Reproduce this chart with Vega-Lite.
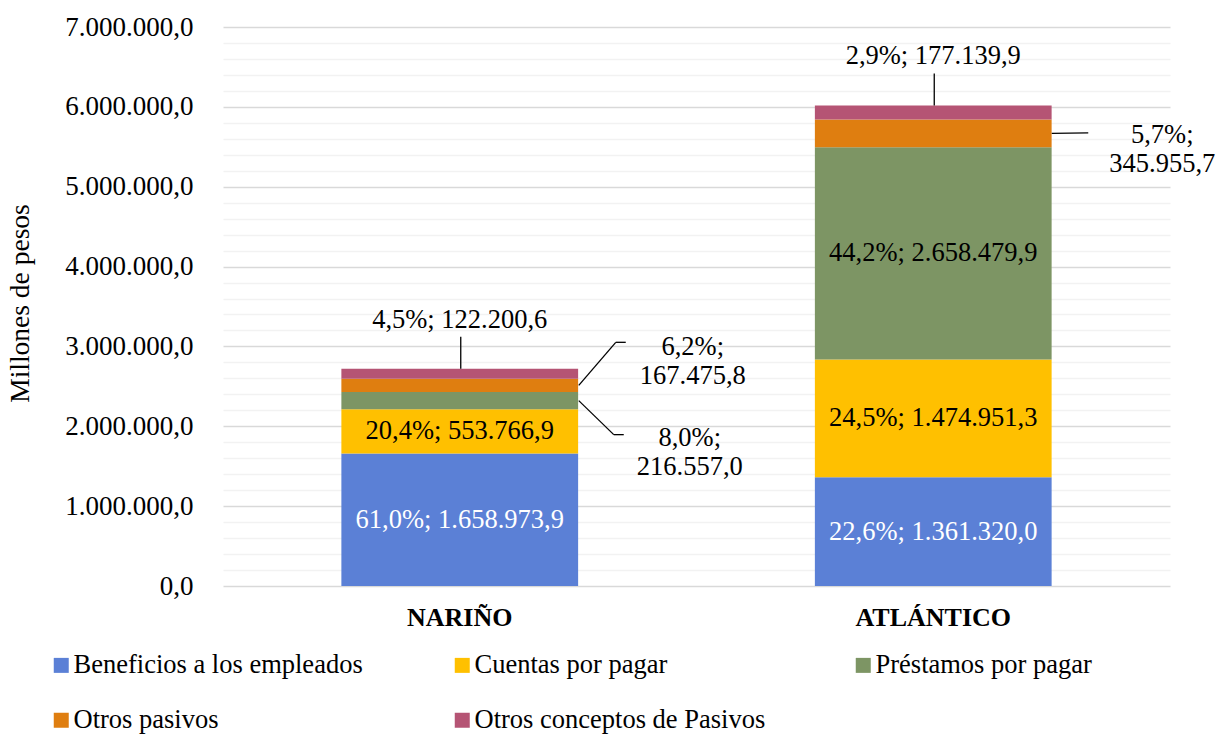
{
  "$schema": "https://vega.github.io/schema/vega-lite/v6.json",
  "width": 947,
  "height": 559,
  "autosize": {"type": "none"},
  "padding": {"left": 223, "top": 27, "right": 46, "bottom": 149},
  "background": "white",
  "config": {
    "view": {"stroke": null},
    "font": "Liberation Serif",
    "locale": {"number": {"decimal": ",", "thousands": ".", "grouping": [3], "currency": ["$", ""]}},
    "axis": {"labelFont": "Liberation Serif", "titleFont": "Liberation Serif", "labelColor": "#000000", "titleColor": "#000000"},
    "legend": {"labelFont": "Liberation Serif"},
    "text": {"font": "Liberation Serif", "fontSize": 26.5, "baseline": "middle", "align": "center", "color": "#000000"}
  },
  "data": {
    "values": [
      {"region": "NARIÑO", "concepto": "Beneficios a los empleados", "valor": 1658973.9, "etiqueta": "61,0%; 1.658.973,9"},
      {"region": "NARIÑO", "concepto": "Cuentas por pagar", "valor": 553766.9, "etiqueta": "20,4%; 553.766,9"},
      {"region": "NARIÑO", "concepto": "Préstamos por pagar", "valor": 216557.0, "etiqueta": "8,0%; 216.557,0"},
      {"region": "NARIÑO", "concepto": "Otros pasivos", "valor": 167475.8, "etiqueta": "6,2%; 167.475,8"},
      {"region": "NARIÑO", "concepto": "Otros conceptos de Pasivos", "valor": 122200.6, "etiqueta": "4,5%; 122.200,6"},
      {"region": "ATLÁNTICO", "concepto": "Beneficios a los empleados", "valor": 1361320.0, "etiqueta": "22,6%; 1.361.320,0"},
      {"region": "ATLÁNTICO", "concepto": "Cuentas por pagar", "valor": 1474951.3, "etiqueta": "24,5%; 1.474.951,3"},
      {"region": "ATLÁNTICO", "concepto": "Préstamos por pagar", "valor": 2658479.9, "etiqueta": "44,2%; 2.658.479,9"},
      {"region": "ATLÁNTICO", "concepto": "Otros pasivos", "valor": 345955.7, "etiqueta": "5,7%; 345.955,7"},
      {"region": "ATLÁNTICO", "concepto": "Otros conceptos de Pasivos", "valor": 177139.9, "etiqueta": "2,9%; 177.139,9"}
    ]
  },
  "transform": [
    {"calculate": "indexof(['Beneficios a los empleados','Cuentas por pagar','Préstamos por pagar','Otros pasivos','Otros conceptos de Pasivos'], datum.concepto)", "as": "orden"},
    {"stack": "valor", "groupby": ["region"], "sort": [{"field": "orden", "order": "ascending"}], "as": ["v0", "v1"]},
    {"calculate": "(datum.v0 + datum.v1) / 2", "as": "vmid"}
  ],
  "layer": [
    {
      "mark": {"type": "bar"},
      "encoding": {
        "x": {"field": "region", "type": "nominal", "sort": ["NARIÑO", "ATLÁNTICO"], "scale": {"paddingInner": 0.5, "paddingOuter": 0.25},
          "axis": {"title": null, "labelAngle": 0, "labelFontSize": 26, "labelFontWeight": "bold", "labelPadding": 18, "domain": false, "ticks": false, "labelColor": "#000000"}},
        "y": {"field": "v0", "type": "quantitative", "scale": {"domain": [0, 7000000], "nice": false, "zero": true},
          "axis": {"title": "Millones  de pesos", "titleFontSize": 27.5, "titleFontWeight": "normal", "titleAngle": -90, "titleX": -203, "titleY": 276, "titleAlign": "center", "titleBaseline": "middle", "values": [0, 200000, 400000, 600000, 800000, 1000000, 1200000, 1400000, 1600000, 1800000, 2000000, 2200000, 2400000, 2600000, 2800000, 3000000, 3200000, 3400000, 3600000, 3800000, 4000000, 4200000, 4400000, 4600000, 4800000, 5000000, 5200000, 5400000, 5600000, 5800000, 6000000, 6200000, 6400000, 6600000, 6800000, 7000000], "format": ",.1f", "labelExpr": "datum.value % 1000000 === 0 ? datum.label : ''", "labelFontSize": 27, "labelPadding": 30, "labelOverlap": false, "labelFlush": false, "ticks": false, "tickSize": 0, "domain": false, "grid": true, "gridColor": {"condition": {"test": "datum.value % 1000000 === 0", "value": "#d9d9d9"}, "value": "#f2f2f2"}, "gridWidth": 1.3}},
        "y2": {"field": "v1"},
        "color": {
          "field": "concepto", "type": "nominal",
          "scale": {
            "domain": ["Beneficios a los empleados", "Cuentas por pagar", "Préstamos por pagar", "Otros pasivos", "Otros conceptos de Pasivos"],
            "range": ["#5B80D6", "#FFC000", "#7D9564", "#DF7E10", "#B55474"]
          },
          "legend": {
            "title": null, "orient": "none", "legendX": -175, "legendY": 625, "direction": "horizontal", "columns": 3,
            "symbolType": "square", "symbolSize": 225, "symbolStrokeWidth": 0,
            "labelFontSize": 26.5, "labelColor": "#000000", "labelLimit": 500, "labelOffset": -1,
            "columnPadding": 84, "rowPadding": 28, "gridAlign": "all", "padding": 0
          }
        }
      }
    },
    {
      "transform": [{"filter": "(datum.region === 'NARIÑO' && datum.orden <= 1) || (datum.region === 'ATLÁNTICO' && datum.orden <= 2)"}],
      "mark": {"type": "text"},
      "encoding": {
        "x": {"field": "region", "type": "nominal", "sort": ["NARIÑO", "ATLÁNTICO"],
          "axis": {"title": null, "labelAngle": 0, "labelFontSize": 26, "labelFontWeight": "bold", "labelPadding": 18, "domain": false, "ticks": false, "labelColor": "#000000"}},
        "y": {"field": "vmid", "type": "quantitative",
          "axis": {"title": "Millones  de pesos", "titleFontSize": 27.5, "titleFontWeight": "normal", "titleAngle": -90, "titleX": -203, "titleY": 276, "titleAlign": "center", "titleBaseline": "middle", "values": [0, 200000, 400000, 600000, 800000, 1000000, 1200000, 1400000, 1600000, 1800000, 2000000, 2200000, 2400000, 2600000, 2800000, 3000000, 3200000, 3400000, 3600000, 3800000, 4000000, 4200000, 4400000, 4600000, 4800000, 5000000, 5200000, 5400000, 5600000, 5800000, 6000000, 6200000, 6400000, 6600000, 6800000, 7000000], "format": ",.1f", "labelExpr": "datum.value % 1000000 === 0 ? datum.label : ''", "labelFontSize": 27, "labelPadding": 30, "labelOverlap": false, "labelFlush": false, "ticks": false, "tickSize": 0, "domain": false, "grid": true, "gridColor": {"condition": {"test": "datum.value % 1000000 === 0", "value": "#d9d9d9"}, "value": "#f2f2f2"}, "gridWidth": 1.3}},
        "text": {"field": "etiqueta", "type": "nominal"},
        "color": {"condition": {"test": "datum.orden === 0", "value": "#ffffff"}, "value": "#000000"}
      }
    },
    {
      "transform": [{"filter": "datum.orden === 4"}],
      "mark": {"type": "text", "dy": -49},
      "encoding": {
        "x": {"field": "region", "type": "nominal", "sort": ["NARIÑO", "ATLÁNTICO"],
          "axis": {"title": null, "labelAngle": 0, "labelFontSize": 26, "labelFontWeight": "bold", "labelPadding": 18, "domain": false, "ticks": false, "labelColor": "#000000"}},
        "y": {"field": "v1", "type": "quantitative",
          "axis": {"title": "Millones  de pesos", "titleFontSize": 27.5, "titleFontWeight": "normal", "titleAngle": -90, "titleX": -203, "titleY": 276, "titleAlign": "center", "titleBaseline": "middle", "values": [0, 200000, 400000, 600000, 800000, 1000000, 1200000, 1400000, 1600000, 1800000, 2000000, 2200000, 2400000, 2600000, 2800000, 3000000, 3200000, 3400000, 3600000, 3800000, 4000000, 4200000, 4400000, 4600000, 4800000, 5000000, 5200000, 5400000, 5600000, 5800000, 6000000, 6200000, 6400000, 6600000, 6800000, 7000000], "format": ",.1f", "labelExpr": "datum.value % 1000000 === 0 ? datum.label : ''", "labelFontSize": 27, "labelPadding": 30, "labelOverlap": false, "labelFlush": false, "ticks": false, "tickSize": 0, "domain": false, "grid": true, "gridColor": {"condition": {"test": "datum.value % 1000000 === 0", "value": "#d9d9d9"}, "value": "#f2f2f2"}, "gridWidth": 1.3}},
        "text": {"field": "etiqueta", "type": "nominal"}
      }
    },
    {
      "transform": [{"filter": "datum.orden === 4"}],
      "mark": {"type": "rule", "color": "#000000", "strokeWidth": 1.3, "xOffset": 1, "y2Offset": -32},
      "encoding": {
        "x": {"field": "region", "type": "nominal", "sort": ["NARIÑO", "ATLÁNTICO"],
          "axis": {"title": null, "labelAngle": 0, "labelFontSize": 26, "labelFontWeight": "bold", "labelPadding": 18, "domain": false, "ticks": false, "labelColor": "#000000"}},
        "y": {"field": "v1", "type": "quantitative",
          "axis": {"title": "Millones  de pesos", "titleFontSize": 27.5, "titleFontWeight": "normal", "titleAngle": -90, "titleX": -203, "titleY": 276, "titleAlign": "center", "titleBaseline": "middle", "values": [0, 200000, 400000, 600000, 800000, 1000000, 1200000, 1400000, 1600000, 1800000, 2000000, 2200000, 2400000, 2600000, 2800000, 3000000, 3200000, 3400000, 3600000, 3800000, 4000000, 4200000, 4400000, 4600000, 4800000, 5000000, 5200000, 5400000, 5600000, 5800000, 6000000, 6200000, 6400000, 6600000, 6800000, 7000000], "format": ",.1f", "labelExpr": "datum.value % 1000000 === 0 ? datum.label : ''", "labelFontSize": 27, "labelPadding": 30, "labelOverlap": false, "labelFlush": false, "ticks": false, "tickSize": 0, "domain": false, "grid": true, "gridColor": {"condition": {"test": "datum.value % 1000000 === 0", "value": "#d9d9d9"}, "value": "#f2f2f2"}, "gridWidth": 1.3}},
        "y2": {"field": "v1"}
      }
    },
    {
      "transform": [{"filter": "datum.region === 'NARIÑO' && datum.orden === 3"}],
      "mark": {"type": "text", "dx": 233, "dy": -38, "lineBreak": " ", "lineHeight": 29},
      "encoding": {
        "x": {"field": "region", "type": "nominal", "sort": ["NARIÑO", "ATLÁNTICO"],
          "axis": {"title": null, "labelAngle": 0, "labelFontSize": 26, "labelFontWeight": "bold", "labelPadding": 18, "domain": false, "ticks": false, "labelColor": "#000000"}},
        "y": {"field": "vmid", "type": "quantitative",
          "axis": {"title": "Millones  de pesos", "titleFontSize": 27.5, "titleFontWeight": "normal", "titleAngle": -90, "titleX": -203, "titleY": 276, "titleAlign": "center", "titleBaseline": "middle", "values": [0, 200000, 400000, 600000, 800000, 1000000, 1200000, 1400000, 1600000, 1800000, 2000000, 2200000, 2400000, 2600000, 2800000, 3000000, 3200000, 3400000, 3600000, 3800000, 4000000, 4200000, 4400000, 4600000, 4800000, 5000000, 5200000, 5400000, 5600000, 5800000, 6000000, 6200000, 6400000, 6600000, 6800000, 7000000], "format": ",.1f", "labelExpr": "datum.value % 1000000 === 0 ? datum.label : ''", "labelFontSize": 27, "labelPadding": 30, "labelOverlap": false, "labelFlush": false, "ticks": false, "tickSize": 0, "domain": false, "grid": true, "gridColor": {"condition": {"test": "datum.value % 1000000 === 0", "value": "#d9d9d9"}, "value": "#f2f2f2"}, "gridWidth": 1.3}},
        "text": {"field": "etiqueta", "type": "nominal"}
      }
    },
    {
      "transform": [{"filter": "datum.region === 'NARIÑO' && datum.orden === 3"}],
      "mark": {"type": "rule", "color": "#000000", "strokeWidth": 1.3, "xOffset": 119, "x2Offset": 156, "y2Offset": -43},
      "encoding": {
        "x": {"field": "region", "type": "nominal", "sort": ["NARIÑO", "ATLÁNTICO"], "bandPosition": 0.5,
          "axis": {"title": null, "labelAngle": 0, "labelFontSize": 26, "labelFontWeight": "bold", "labelPadding": 18, "domain": false, "ticks": false, "labelColor": "#000000"}},
        "x2": {"field": "region", "bandPosition": 0.5},
        "y": {"field": "vmid", "type": "quantitative",
          "axis": {"title": "Millones  de pesos", "titleFontSize": 27.5, "titleFontWeight": "normal", "titleAngle": -90, "titleX": -203, "titleY": 276, "titleAlign": "center", "titleBaseline": "middle", "values": [0, 200000, 400000, 600000, 800000, 1000000, 1200000, 1400000, 1600000, 1800000, 2000000, 2200000, 2400000, 2600000, 2800000, 3000000, 3200000, 3400000, 3600000, 3800000, 4000000, 4200000, 4400000, 4600000, 4800000, 5000000, 5200000, 5400000, 5600000, 5800000, 6000000, 6200000, 6400000, 6600000, 6800000, 7000000], "format": ",.1f", "labelExpr": "datum.value % 1000000 === 0 ? datum.label : ''", "labelFontSize": 27, "labelPadding": 30, "labelOverlap": false, "labelFlush": false, "ticks": false, "tickSize": 0, "domain": false, "grid": true, "gridColor": {"condition": {"test": "datum.value % 1000000 === 0", "value": "#d9d9d9"}, "value": "#f2f2f2"}, "gridWidth": 1.3}},
        "y2": {"field": "vmid"}
      }
    },
    {
      "transform": [{"filter": "datum.region === 'NARIÑO' && datum.orden === 3"}],
      "mark": {"type": "rule", "color": "#000000", "strokeWidth": 1.3, "xOffset": 156, "x2Offset": 166, "yOffset": -43, "y2Offset": -43},
      "encoding": {
        "x": {"field": "region", "type": "nominal", "sort": ["NARIÑO", "ATLÁNTICO"], "bandPosition": 0.5,
          "axis": {"title": null, "labelAngle": 0, "labelFontSize": 26, "labelFontWeight": "bold", "labelPadding": 18, "domain": false, "ticks": false, "labelColor": "#000000"}},
        "x2": {"field": "region", "bandPosition": 0.5},
        "y": {"field": "vmid", "type": "quantitative",
          "axis": {"title": "Millones  de pesos", "titleFontSize": 27.5, "titleFontWeight": "normal", "titleAngle": -90, "titleX": -203, "titleY": 276, "titleAlign": "center", "titleBaseline": "middle", "values": [0, 200000, 400000, 600000, 800000, 1000000, 1200000, 1400000, 1600000, 1800000, 2000000, 2200000, 2400000, 2600000, 2800000, 3000000, 3200000, 3400000, 3600000, 3800000, 4000000, 4200000, 4400000, 4600000, 4800000, 5000000, 5200000, 5400000, 5600000, 5800000, 6000000, 6200000, 6400000, 6600000, 6800000, 7000000], "format": ",.1f", "labelExpr": "datum.value % 1000000 === 0 ? datum.label : ''", "labelFontSize": 27, "labelPadding": 30, "labelOverlap": false, "labelFlush": false, "ticks": false, "tickSize": 0, "domain": false, "grid": true, "gridColor": {"condition": {"test": "datum.value % 1000000 === 0", "value": "#d9d9d9"}, "value": "#f2f2f2"}, "gridWidth": 1.3}},
        "y2": {"field": "vmid"}
      }
    },
    {
      "transform": [{"filter": "datum.region === 'NARIÑO' && datum.orden === 2"}],
      "mark": {"type": "text", "dx": 230, "dy": 37, "lineBreak": " ", "lineHeight": 29},
      "encoding": {
        "x": {"field": "region", "type": "nominal", "sort": ["NARIÑO", "ATLÁNTICO"],
          "axis": {"title": null, "labelAngle": 0, "labelFontSize": 26, "labelFontWeight": "bold", "labelPadding": 18, "domain": false, "ticks": false, "labelColor": "#000000"}},
        "y": {"field": "vmid", "type": "quantitative",
          "axis": {"title": "Millones  de pesos", "titleFontSize": 27.5, "titleFontWeight": "normal", "titleAngle": -90, "titleX": -203, "titleY": 276, "titleAlign": "center", "titleBaseline": "middle", "values": [0, 200000, 400000, 600000, 800000, 1000000, 1200000, 1400000, 1600000, 1800000, 2000000, 2200000, 2400000, 2600000, 2800000, 3000000, 3200000, 3400000, 3600000, 3800000, 4000000, 4200000, 4400000, 4600000, 4800000, 5000000, 5200000, 5400000, 5600000, 5800000, 6000000, 6200000, 6400000, 6600000, 6800000, 7000000], "format": ",.1f", "labelExpr": "datum.value % 1000000 === 0 ? datum.label : ''", "labelFontSize": 27, "labelPadding": 30, "labelOverlap": false, "labelFlush": false, "ticks": false, "tickSize": 0, "domain": false, "grid": true, "gridColor": {"condition": {"test": "datum.value % 1000000 === 0", "value": "#d9d9d9"}, "value": "#f2f2f2"}, "gridWidth": 1.3}},
        "text": {"field": "etiqueta", "type": "nominal"}
      }
    },
    {
      "transform": [{"filter": "datum.region === 'NARIÑO' && datum.orden === 2"}],
      "mark": {"type": "rule", "color": "#000000", "strokeWidth": 1.3, "xOffset": 119, "x2Offset": 154, "y2Offset": 34},
      "encoding": {
        "x": {"field": "region", "type": "nominal", "sort": ["NARIÑO", "ATLÁNTICO"], "bandPosition": 0.5,
          "axis": {"title": null, "labelAngle": 0, "labelFontSize": 26, "labelFontWeight": "bold", "labelPadding": 18, "domain": false, "ticks": false, "labelColor": "#000000"}},
        "x2": {"field": "region", "bandPosition": 0.5},
        "y": {"field": "vmid", "type": "quantitative",
          "axis": {"title": "Millones  de pesos", "titleFontSize": 27.5, "titleFontWeight": "normal", "titleAngle": -90, "titleX": -203, "titleY": 276, "titleAlign": "center", "titleBaseline": "middle", "values": [0, 200000, 400000, 600000, 800000, 1000000, 1200000, 1400000, 1600000, 1800000, 2000000, 2200000, 2400000, 2600000, 2800000, 3000000, 3200000, 3400000, 3600000, 3800000, 4000000, 4200000, 4400000, 4600000, 4800000, 5000000, 5200000, 5400000, 5600000, 5800000, 6000000, 6200000, 6400000, 6600000, 6800000, 7000000], "format": ",.1f", "labelExpr": "datum.value % 1000000 === 0 ? datum.label : ''", "labelFontSize": 27, "labelPadding": 30, "labelOverlap": false, "labelFlush": false, "ticks": false, "tickSize": 0, "domain": false, "grid": true, "gridColor": {"condition": {"test": "datum.value % 1000000 === 0", "value": "#d9d9d9"}, "value": "#f2f2f2"}, "gridWidth": 1.3}},
        "y2": {"field": "vmid"}
      }
    },
    {
      "transform": [{"filter": "datum.region === 'NARIÑO' && datum.orden === 2"}],
      "mark": {"type": "rule", "color": "#000000", "strokeWidth": 1.3, "xOffset": 154, "x2Offset": 164, "yOffset": 34, "y2Offset": 34},
      "encoding": {
        "x": {"field": "region", "type": "nominal", "sort": ["NARIÑO", "ATLÁNTICO"], "bandPosition": 0.5,
          "axis": {"title": null, "labelAngle": 0, "labelFontSize": 26, "labelFontWeight": "bold", "labelPadding": 18, "domain": false, "ticks": false, "labelColor": "#000000"}},
        "x2": {"field": "region", "bandPosition": 0.5},
        "y": {"field": "vmid", "type": "quantitative",
          "axis": {"title": "Millones  de pesos", "titleFontSize": 27.5, "titleFontWeight": "normal", "titleAngle": -90, "titleX": -203, "titleY": 276, "titleAlign": "center", "titleBaseline": "middle", "values": [0, 200000, 400000, 600000, 800000, 1000000, 1200000, 1400000, 1600000, 1800000, 2000000, 2200000, 2400000, 2600000, 2800000, 3000000, 3200000, 3400000, 3600000, 3800000, 4000000, 4200000, 4400000, 4600000, 4800000, 5000000, 5200000, 5400000, 5600000, 5800000, 6000000, 6200000, 6400000, 6600000, 6800000, 7000000], "format": ",.1f", "labelExpr": "datum.value % 1000000 === 0 ? datum.label : ''", "labelFontSize": 27, "labelPadding": 30, "labelOverlap": false, "labelFlush": false, "ticks": false, "tickSize": 0, "domain": false, "grid": true, "gridColor": {"condition": {"test": "datum.value % 1000000 === 0", "value": "#d9d9d9"}, "value": "#f2f2f2"}, "gridWidth": 1.3}},
        "y2": {"field": "vmid"}
      }
    },
    {
      "transform": [{"filter": "datum.region === 'ATLÁNTICO' && datum.orden === 3"}],
      "mark": {"type": "text", "dx": 229, "dy": 1.5, "lineBreak": " ", "lineHeight": 29},
      "encoding": {
        "x": {"field": "region", "type": "nominal", "sort": ["NARIÑO", "ATLÁNTICO"],
          "axis": {"title": null, "labelAngle": 0, "labelFontSize": 26, "labelFontWeight": "bold", "labelPadding": 18, "domain": false, "ticks": false, "labelColor": "#000000"}},
        "y": {"field": "vmid", "type": "quantitative",
          "axis": {"title": "Millones  de pesos", "titleFontSize": 27.5, "titleFontWeight": "normal", "titleAngle": -90, "titleX": -203, "titleY": 276, "titleAlign": "center", "titleBaseline": "middle", "values": [0, 200000, 400000, 600000, 800000, 1000000, 1200000, 1400000, 1600000, 1800000, 2000000, 2200000, 2400000, 2600000, 2800000, 3000000, 3200000, 3400000, 3600000, 3800000, 4000000, 4200000, 4400000, 4600000, 4800000, 5000000, 5200000, 5400000, 5600000, 5800000, 6000000, 6200000, 6400000, 6600000, 6800000, 7000000], "format": ",.1f", "labelExpr": "datum.value % 1000000 === 0 ? datum.label : ''", "labelFontSize": 27, "labelPadding": 30, "labelOverlap": false, "labelFlush": false, "ticks": false, "tickSize": 0, "domain": false, "grid": true, "gridColor": {"condition": {"test": "datum.value % 1000000 === 0", "value": "#d9d9d9"}, "value": "#f2f2f2"}, "gridWidth": 1.3}},
        "text": {"field": "etiqueta", "type": "nominal"}
      }
    },
    {
      "transform": [{"filter": "datum.region === 'ATLÁNTICO' && datum.orden === 3"}],
      "mark": {"type": "rule", "color": "#000000", "strokeWidth": 1.3, "xOffset": 118.5, "x2Offset": 155, "y2Offset": -0.5},
      "encoding": {
        "x": {"field": "region", "type": "nominal", "sort": ["NARIÑO", "ATLÁNTICO"], "bandPosition": 0.5,
          "axis": {"title": null, "labelAngle": 0, "labelFontSize": 26, "labelFontWeight": "bold", "labelPadding": 18, "domain": false, "ticks": false, "labelColor": "#000000"}},
        "x2": {"field": "region", "bandPosition": 0.5},
        "y": {"field": "vmid", "type": "quantitative",
          "axis": {"title": "Millones  de pesos", "titleFontSize": 27.5, "titleFontWeight": "normal", "titleAngle": -90, "titleX": -203, "titleY": 276, "titleAlign": "center", "titleBaseline": "middle", "values": [0, 200000, 400000, 600000, 800000, 1000000, 1200000, 1400000, 1600000, 1800000, 2000000, 2200000, 2400000, 2600000, 2800000, 3000000, 3200000, 3400000, 3600000, 3800000, 4000000, 4200000, 4400000, 4600000, 4800000, 5000000, 5200000, 5400000, 5600000, 5800000, 6000000, 6200000, 6400000, 6600000, 6800000, 7000000], "format": ",.1f", "labelExpr": "datum.value % 1000000 === 0 ? datum.label : ''", "labelFontSize": 27, "labelPadding": 30, "labelOverlap": false, "labelFlush": false, "ticks": false, "tickSize": 0, "domain": false, "grid": true, "gridColor": {"condition": {"test": "datum.value % 1000000 === 0", "value": "#d9d9d9"}, "value": "#f2f2f2"}, "gridWidth": 1.3}},
        "y2": {"field": "vmid"}
      }
    }
  ]
}
